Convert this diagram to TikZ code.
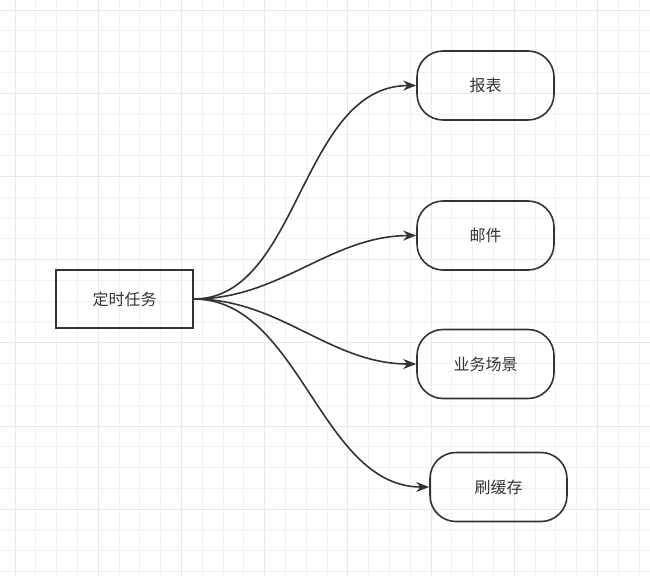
\documentclass[tikz,border=0pt]{standalone}
\usepackage{fontspec}
\newfontfamily\cjk{Noto Sans CJK SC}
\usetikzlibrary{arrows.meta}
\definecolor{ln}{HTML}{333333}
\begin{document}
\begin{tikzpicture}[x=1pt,y=-1pt,
  box/.style={draw=ln,line width=1.6pt,minimum width=137pt,minimum height=58pt,inner sep=0pt,font=\cjk\fontsize{16}{18}\selectfont,text=ln},
  pill/.style={box,rounded corners=26pt,minimum height=69pt},
  conn/.style={draw=ln,line width=1.6pt,-{Stealth[length=13pt,width=10pt]}}]
\useasboundingbox (0,0) rectangle (650,576);
\foreach \i in {0,...,31} {\draw[black!5,line width=0.8pt] (15+20.8*\i,0) -- (15+20.8*\i,576);}
\foreach \i in {0,...,27} {\draw[black!5,line width=0.8pt] (0,10+20.8*\i) -- (650,10+20.8*\i);}
\foreach \i in {0,...,7} {\draw[black!9,line width=0.8pt] (15+83.2*\i,0) -- (15+83.2*\i,576);}
\foreach \i in {0,...,6} {\draw[black!9,line width=0.8pt] (0,10+83.2*\i) -- (650,10+83.2*\i);}
\node[box] (t) at (124.5,299) {定时任务};
\node[pill] (a) at (485.5,85.5) {报表};
\node[pill] (b) at (485.5,235.5) {邮件};
\node[pill] (c) at (485.5,364) {业务场景};
\node[pill] (d) at (498.5,487) {刷缓存};
\draw[conn] (t.east) .. controls (300,299) and (300,86) .. (a.west);
\draw[conn] (t.east) .. controls (280,299) and (330,236) .. (b.west);
\draw[conn] (t.east) .. controls (280,299) and (330,364) .. (c.west);
\draw[conn] (t.east) .. controls (300,299) and (320,487) .. (d.west);
\end{tikzpicture}
\end{document}
